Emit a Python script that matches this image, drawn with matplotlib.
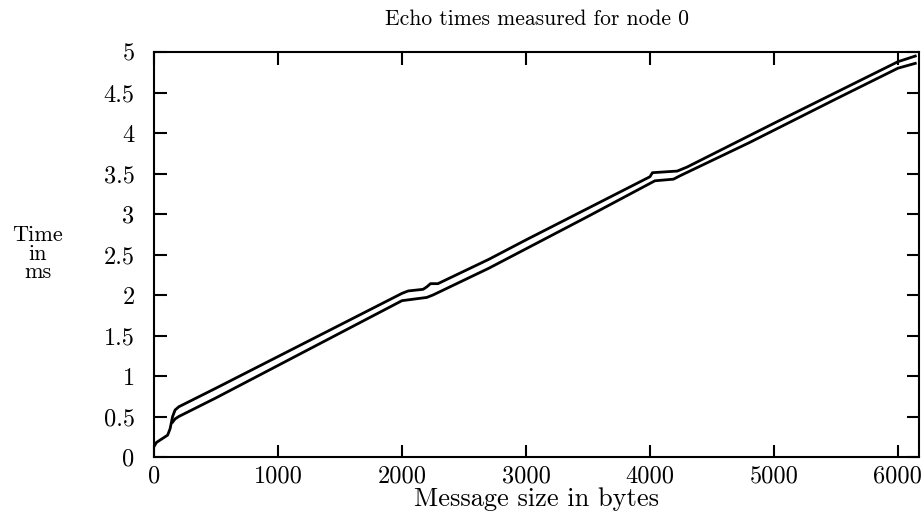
import matplotlib
matplotlib.use("Agg")
import matplotlib.pyplot as plt
import numpy as np

# Upper curve (message size in bytes -> time in ms)
upper_x = [0, 20, 60, 110, 130, 150, 170, 200, 500, 1000, 1500, 2000, 2050, 2170,
           2200, 2230, 2290, 2700, 3000, 3500, 4000, 4020, 4220, 4300, 5000, 5500, 6000, 6140]
upper_y = [0.13, 0.18, 0.22, 0.27, 0.35, 0.50, 0.58, 0.62, 0.85, 1.24, 1.63, 2.02, 2.05, 2.07,
           2.10, 2.14, 2.14, 2.44, 2.68, 3.07, 3.46, 3.51, 3.53, 3.58, 4.12, 4.50, 4.88, 4.95]

# Lower curve
lower_x = [150, 170, 200, 500, 1000, 1500, 2000, 2200, 2250, 2700, 3000, 3500, 4040,
           4190, 4240, 4800, 5500, 6000, 6140]
lower_y = [0.43, 0.47, 0.50, 0.73, 1.13, 1.53, 1.93, 1.97, 2.00, 2.33, 2.57, 2.97, 3.41,
           3.43, 3.47, 3.88, 4.42, 4.80, 4.86]

x_ticks = [0, 1000, 2000, 3000, 4000, 5000, 6000]
y_ticks = [0, 0.5, 1, 1.5, 2, 2.5, 3, 3.5, 4, 4.5, 5]

title = "Echo times measured for node 0"
xlabel = "Message size in bytes"
ylabel = "Time\nin\nms"

plt.rcParams['font.family'] = ['cmr10', 'DejaVu Serif']
plt.rcParams['axes.formatter.use_mathtext'] = True

fig = plt.figure(figsize=(9.24, 5.26), dpi=100)
ax = fig.add_axes([154/924, 1-457/526, (919-154)/924, (457-52)/526])

ax.plot(upper_x, upper_y, color='black', lw=2.0, solid_joinstyle='round')
ax.plot(lower_x, lower_y, color='black', lw=2.0, solid_joinstyle='round')

ax.set_xlim(0, 6170)
ax.set_ylim(0, 5)
ax.set_xticks(x_ticks)
ax.set_xticklabels([str(v) for v in x_ticks])
ax.set_yticks(y_ticks)
ax.set_yticklabels([f"{v:g}" for v in y_ticks])

ax.tick_params(direction='in', length=9, width=1.5, top=True, right=True,
               labelsize=17.5, colors='black')
ax.tick_params(axis='x', pad=6)
ax.tick_params(axis='y', pad=14)
for s in ax.spines.values():
    s.set_linewidth(1.5)
    s.set_color('black')

fig.text(537/924, 1-19/526, title, ha='center', va='center', fontsize=15.5)
fig.text(537/924, 1-499/526, xlabel, ha='center', va='center', fontsize=19)
fig.text(38/924, 1-254/526, ylabel, ha='center', va='center', fontsize=16,
         linespacing=0.95)

fig.savefig("out.png", dpi=100)
